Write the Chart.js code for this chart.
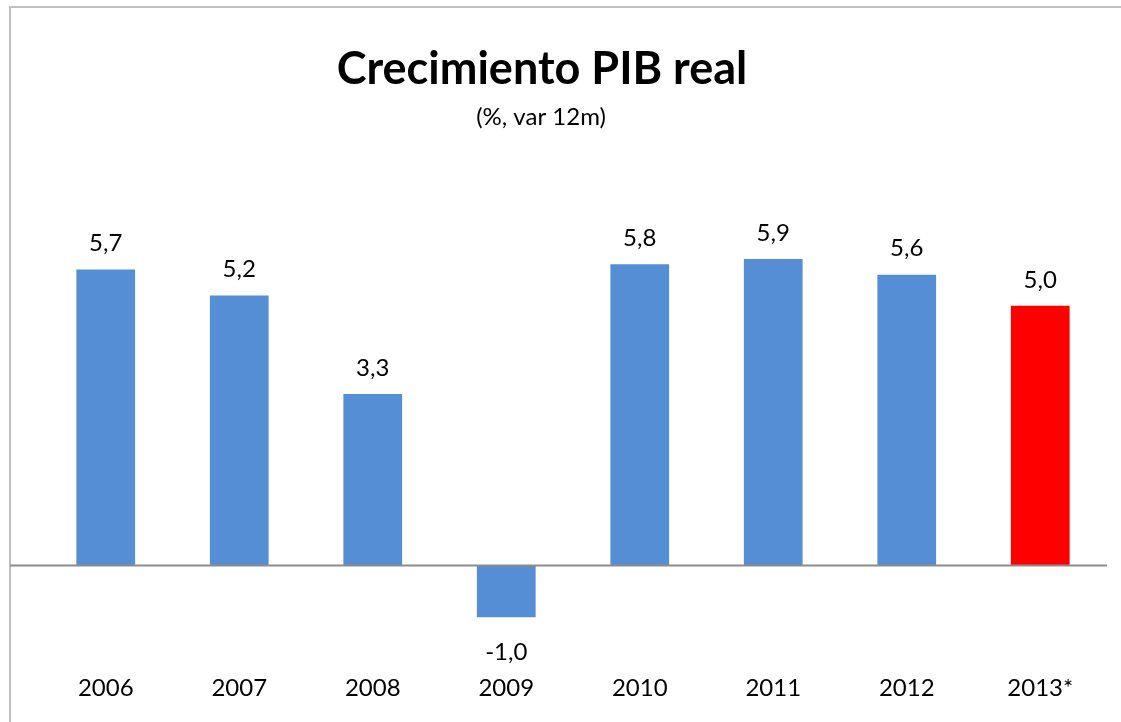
<!DOCTYPE html>
<html>
<head>
<meta charset="utf-8">
<script src="https://cdn.jsdelivr.net/npm/chart.js@4"></script>
<style>
  html, body { margin: 0; padding: 0; background: #fff; }
  #wrap { width: 1121px; height: 722px; }
</style>
</head>
<body>
<div id="wrap"><canvas id="pib"></canvas></div>
<script>
var years = ['2006', '2007', '2008', '2009', '2010', '2011', '2012', '2013*'];
var growth = [5.7, 5.2, 3.3, -1.0, 5.8, 5.9, 5.6, 5.0];
var barColors = ['#558ED5', '#558ED5', '#558ED5', '#558ED5', '#558ED5', '#558ED5', '#558ED5', '#FF0000'];
var titleText = 'Crecimiento PIB real';
var subtitleText = '(%, var 12m)';

var FONT = 'Lato, "Open Sans", sans-serif';

// frame, titles, zero line and value labels
var decor = {
  id: 'decor',
  beforeDraw: function (chart) {
    var ctx = chart.ctx;
    ctx.save();
    ctx.strokeStyle = '#BFBFBF';
    ctx.lineWidth = 2;
    ctx.beginPath();
    ctx.moveTo(10, chart.height);
    ctx.lineTo(10, 7);
    ctx.lineTo(chart.width, 7);
    ctx.stroke();

    ctx.fillStyle = '#000';
    ctx.textAlign = 'center';
    ctx.textBaseline = 'middle';
    ctx.font = 'bold 45px ' + FONT;
    ctx.fillText(titleText, 542, 69);
    ctx.font = '24px ' + FONT;
    ctx.fillText(subtitleText, 541, 117);
    ctx.restore();
  },
  afterDatasetsDraw: function (chart) {
    var ctx = chart.ctx;
    var y0 = chart.scales.y.getPixelForValue(0);
    ctx.save();
    ctx.strokeStyle = '#8C8C8C';
    ctx.lineWidth = 2;
    ctx.beginPath();
    ctx.moveTo(10, y0);
    ctx.lineTo(chart.chartArea.right, y0);
    ctx.stroke();

    ctx.fillStyle = '#000';
    ctx.font = '24px ' + FONT;
    ctx.textAlign = 'center';
    ctx.textBaseline = 'middle';
    chart.getDatasetMeta(0).data.forEach(function (bar, i) {
      var v = growth[i];
      var txt = v.toFixed(1).replace('.', ',');
      var y = v >= 0 ? bar.y - 26 : bar.y + 35;
      ctx.fillText(txt, bar.x, y);
    });
    ctx.restore();
  }
};

new Chart(document.getElementById('pib').getContext('2d'), {
  type: 'bar',
  data: {
    labels: years,
    datasets: [{
      data: growth,
      backgroundColor: barColors,
      borderWidth: 0,
      categoryPercentage: 1,
      barPercentage: 0.44
    }]
  },
  options: {
    responsive: true,
    maintainAspectRatio: false,
    animation: false,
    layout: { padding: { top: 202, left: 39, right: 14, bottom: 14 } },
    scales: {
      x: {
        grid: { display: false, drawTicks: false },
        border: { display: false },
        ticks: { color: '#000', font: { family: FONT, size: 24 }, padding: 5 }
      },
      y: {
        display: false,
        min: -2,
        max: 7
      }
    },
    plugins: {
      legend: { display: false },
      tooltip: { enabled: false },
      title: { display: false }
    }
  },
  plugins: [decor]
});
</script>
</body>
</html>
